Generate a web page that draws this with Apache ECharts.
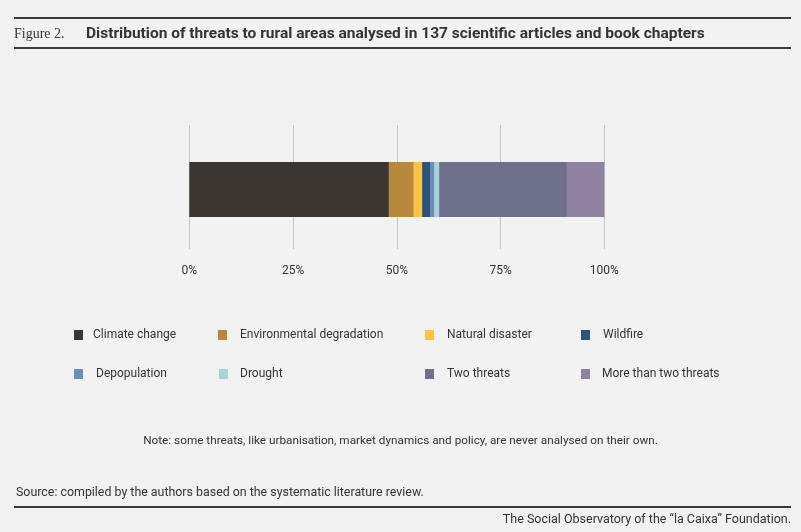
<!DOCTYPE html>
<html><head><meta charset="utf-8">
<script src="https://cdn.jsdelivr.net/npm/echarts@6/dist/echarts.min.js"></script>
<style>html,body{margin:0;padding:0;background:#f2f2f2}#c{width:801px;height:532px}</style>
</head><body><div id="c"></div>
<script>
const categories = ['Articles'];
const seriesNames = ['Climate change','Environmental degradation','Natural disaster','Wildfire','Depopulation','Drought','Two threats','More than two threats'];
const seriesValues = [48.1, 6.0, 2.0, 1.9, 1.1, 1.1, 30.8, 9.0];
const seriesColors = ['#3b3632','#b8893c','#fec344','#2a547a','#6a8fb3','#a8d3dd','#6f7089','#8e82a0'];
const tickLabels = ['0%','25%','50%','75%','100%'];

const legendPos = [[74,329],[218,329],[425,329],[581,329],[74,368],[219,368],[425,368],[581,368]];
const legendGaps = [10,13,13,13,13,12,13,12];

const chart = echarts.init(document.getElementById('c'), null, {renderer:'canvas'});
const font = 'Roboto, "Liberation Sans", sans-serif';
chart.setOption({
  backgroundColor:'#f2f2f2',
  animation:false,
  grid:[
    {left:189.3, right:196.7, top:125, height:124, containLabel:false},
    {left:189.3, right:196.7, top:127.5, height:124, containLabel:false}
  ],
  xAxis:[
    {gridIndex:0, type:'value', min:0, max:100, interval:25,
    axisLine:{show:false}, axisTick:{show:false},
    splitLine:{lineStyle:{color:'#c4c4c4', width:1}},
    axisLabel:{formatter:(v)=>tickLabels[v/25], color:'#333', fontSize:12, fontFamily:font, margin:16}},
    {gridIndex:1, type:'value', min:0, max:100, interval:25, show:false, splitLine:{show:false}}
  ],
  yAxis:[
    {gridIndex:0, type:'category', data:categories, show:false},
    {gridIndex:1, type:'category', data:categories, show:false}
  ],
  legend: seriesNames.map((n,i)=>({
    data:[n], left:legendPos[i][0], top:legendPos[i][1], icon:'rect', itemWidth:9, itemHeight:10, itemGap:legendGaps[i],
    textStyle:{color:'#333', fontSize:12, fontFamily:font, padding:[0,0,0,legendGaps[i]-5]}, selectedMode:false, padding:0
  })),
  series: seriesNames.map((n,i)=>({
    name:n, type:'bar', stack:'total', data:[seriesValues[i]], barWidth:55, xAxisIndex:1, yAxisIndex:1,
    itemStyle:{color:seriesColors[i]}, emphasis:{disabled:true}
  })),
  graphic:[
    {type:'rect', shape:{x:14,y:17,width:777,height:2}, style:{fill:'#3a3a3a'}},
    {type:'rect', shape:{x:14,y:47,width:777,height:2}, style:{fill:'#3a3a3a'}},
    {type:'text', left:14, top:27, style:{text:'Figure 2.', font:'300 14px "Liberation Serif", serif', fill:'#333'}},
    {type:'text', left:86, top:26, style:{text:'Distribution of threats to rural areas analysed in 137 scientific articles and book chapters', font:'bold 15.5px "Liberation Sans Narrow", Roboto, sans-serif', fill:'#333'}},
    {type:'text', left:'center', top:435, style:{text:'Note: some threats, like urbanisation, market dynamics and policy, are never analysed on their own.', font:'11.75px Roboto, sans-serif', fill:'#333'}},
    {type:'text', left:16, top:487, style:{text:'Source: compiled by the authors based on the systematic literature review.', font:'12.4px Roboto, sans-serif', fill:'#333'}},
    {type:'rect', shape:{x:14,y:506,width:777,height:2}, style:{fill:'#3a3a3a'}},
    {type:'text', right:10, top:513, style:{text:'The Social Observatory of the \u201cla Caixa\u201d Foundation.', font:'12.5px Roboto, sans-serif', fill:'#333'}}
  ]
});
</script></body></html>
